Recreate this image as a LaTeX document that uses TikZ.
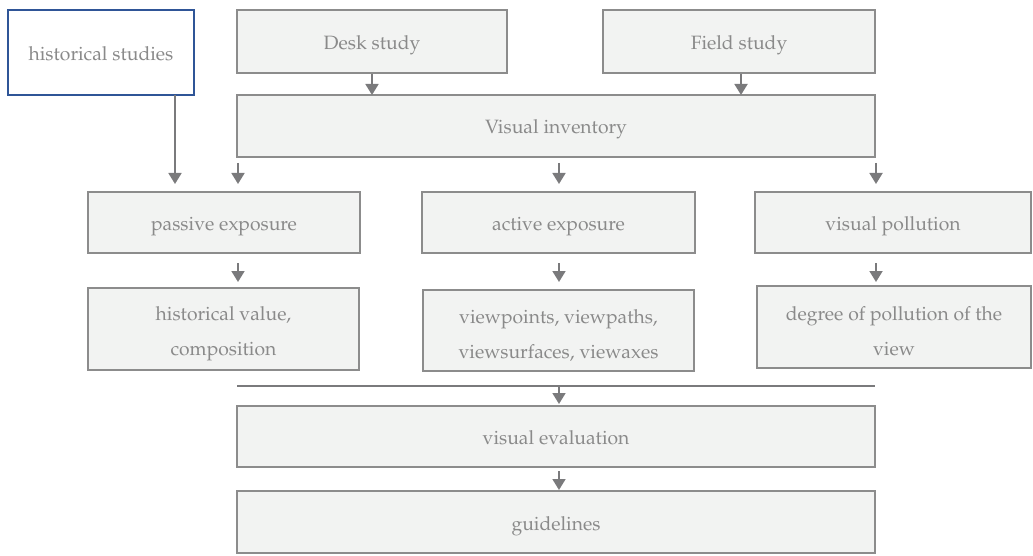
\documentclass[tikz,border=0pt]{standalone}
\usepackage[T1]{fontenc}
\usepackage{mathpazo}
\usetikzlibrary{arrows.meta}
\definecolor{boxfill}{HTML}{F2F3F2}
\definecolor{boxdraw}{HTML}{8C8C8C}
\definecolor{txt}{HTML}{8A8A8A}
\definecolor{arr}{HTML}{7A7A7C}
\definecolor{blueb}{HTML}{2F5597}
\tikzset{
  every node/.style={font=\fontsize{19.3}{35}\selectfont, text=txt},
  gbox/.style={draw=boxdraw, line width=1.4pt, fill=boxfill, inner sep=0pt, align=center},
  hbox/.style={draw=blueb, line width=1.2pt, fill=white, inner sep=0pt, align=center},
  one/.style={execute at begin node={\rule[-6pt]{0pt}{28pt}}},
  twotext/.style={inner sep=0pt, align=center, anchor=center},
  arw/.style={draw=arr, line width=1.8pt, -{Triangle[length=11pt,width=13pt]}},
  plain/.style={draw=arr, line width=1.2pt}
}
\begin{document}
\begin{tikzpicture}[x=1pt,y=-1pt]
\useasboundingbox (0,0) rectangle (1033,556);
\node[hbox, one, minimum width=186pt, minimum height=85pt] (hist) at (101,52.5) {historical studies};
\node[gbox, one, minimum width=270pt, minimum height=63pt] (desk) at (372,41.5) {Desk study};
\node[gbox, one, minimum width=272pt, minimum height=63pt] (field) at (739,41.5) {Field study};
\node[gbox, one, minimum width=638pt, minimum height=62pt] (inv) at (556,126) {Visual inventory};
\node[gbox, one, minimum width=272pt, minimum height=61pt] (pas) at (224,222.5) {passive exposure};
\node[gbox, one, minimum width=273pt, minimum height=61pt] (act) at (558.5,222.5) {active exposure};
\node[gbox, one, minimum width=276pt, minimum height=61pt] (pol) at (893,222.5) {visual pollution};
\node[gbox, minimum width=271pt, minimum height=82pt] (hv) at (223.5,329) {};
\node[twotext] (hvt) at ([yshift=-5pt]hv.center) {historical value,\\composition};
\node[gbox, minimum width=271pt, minimum height=81pt] (vp) at (558.5,330.5) {};
\node[twotext] (vpt) at ([yshift=-5pt]vp.center) {viewpoints, viewpaths,\\viewsurfaces, viewaxes};
\node[gbox, minimum width=274pt, minimum height=82pt] (deg) at (894,327) {};
\node[twotext] (degt) at ([yshift=-4pt]deg.center) {degree of pollution of the\\view};
\node[gbox, one, minimum width=638pt, minimum height=61pt] (eval) at (556,436.5) {visual evaluation};
\node[gbox, one, minimum width=638pt, minimum height=62pt] (guide) at (556,522) {guidelines};
% join line
\coordinate (jl) at (237,386);
\coordinate (jr) at (875,386);
\draw[plain] (jl) -- (jr);
% arrow end points
\coordinate (d1) at (372,74);  \coordinate (d2) at (372,95);
\coordinate (f1) at (741,74);  \coordinate (f2) at (741,95);
\coordinate (h1) at (175,95);  \coordinate (h2) at (175,184);
\coordinate (i1) at (238,163); \coordinate (i2) at (238,184);
\coordinate (i3) at (559,163); \coordinate (i4) at (559,184);
\coordinate (i5) at (876,163); \coordinate (i6) at (876,184);
\coordinate (p1) at (238,263); \coordinate (p2) at (238,282);
\coordinate (q1) at (559,263); \coordinate (q2) at (559,282);
\coordinate (r1) at (876,263); \coordinate (r2) at (876,282);
\coordinate (e1) at (559,387); \coordinate (e2) at (559,404);
\coordinate (g1) at (559,471); \coordinate (g2) at (559,490);
\draw[arw] (d1) -- (d2);
\draw[arw] (f1) -- (f2);
\draw[arw] (h1) -- (h2);
\draw[arw] (i1) -- (i2);
\draw[arw] (i3) -- (i4);
\draw[arw] (i5) -- (i6);
\draw[arw] (p1) -- (p2);
\draw[arw] (q1) -- (q2);
\draw[arw] (r1) -- (r2);
\draw[arw] (e1) -- (e2);
\draw[arw] (g1) -- (g2);
\end{tikzpicture}
\end{document}
